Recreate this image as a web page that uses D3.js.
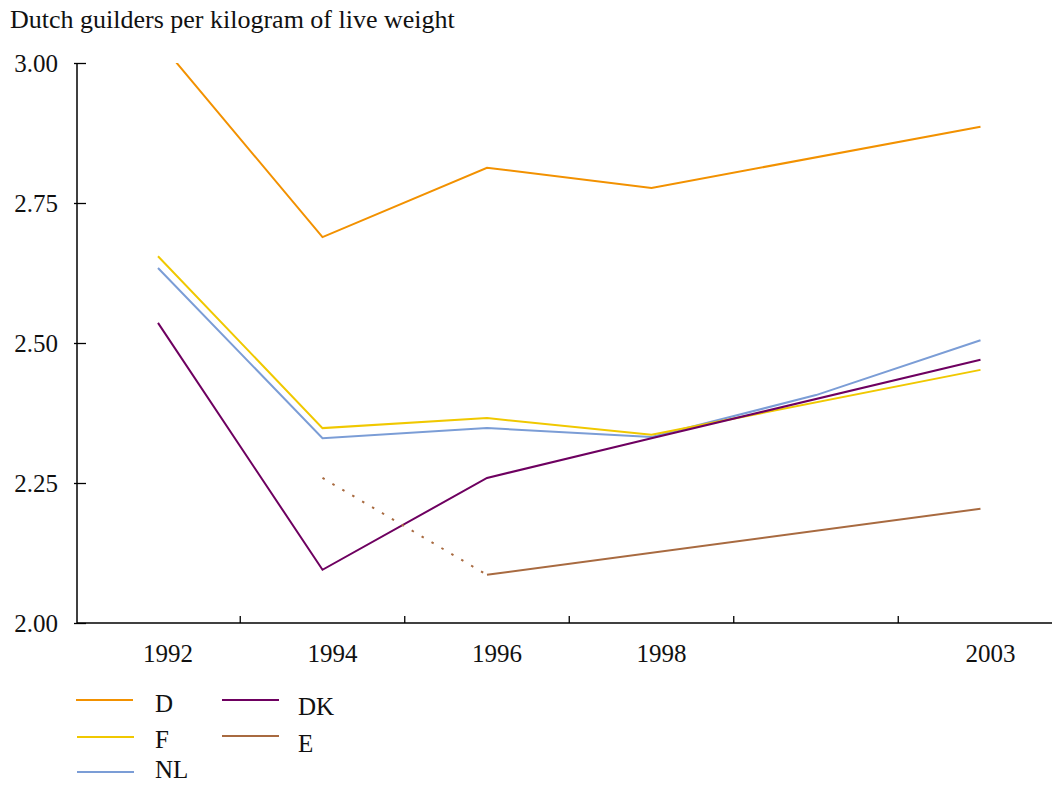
<!DOCTYPE html>
<html>
<head>
<meta charset="utf-8">
<title>Live weight prices</title>
<script src="https://d3js.org/d3.v7.min.js"></script>
<style>
  body { margin: 0; background: #fff; }
  svg text { font-family: "Liberation Serif", Tinos, "Times New Roman", Times, "DejaVu Serif", serif; }
</style>
</head>
<body>
<svg width="1052" height="785"></svg>
<script>
// data
var years = ["1992", "1994", "1996", "1998", "2001", "2003"];
var yearLabels = ["1992", "1994", "1996", "1998", "", "2003"];
var yTicks = [2.00, 2.25, 2.50, 2.75, 3.00];
var seriesNames = ["D", "F", "NL", "DK", "E"];
var valD  = [3.04, 2.689, 2.813, 2.777, null, 2.886];
var valF  = [2.655, 2.348, 2.366, 2.336, null, 2.452];
var valNL = [2.634, 2.330, 2.348, 2.332, 2.407, 2.505];
var valDK = [2.536, 2.095, 2.259, 2.330, null, 2.470];
var valE  = [null, 2.259, 2.086, null, null, 2.204];
var dottedE = [1, 2]; // E: 1994-1996 segment drawn dotted

var colors = {D: "#f29100", F: "#f0c800", NL: "#7b9dd6", DK: "#6e0060", E: "#a86a40"};
var serif = '"Liberation Serif", Tinos, "Times New Roman", Times, "DejaVu Serif", serif';

var svg = d3.select("svg");

var x = d3.scaleBand().domain(years).range([75.75, 1062.75]).paddingInner(0).paddingOuter(0);
var y = d3.scaleLinear().domain([2, 3]).range([623, 63]);
var cx = function(i) { return x(years[i]) + x.bandwidth() / 2; };

// title
svg.append("text").attr("x", 10).attr("y", 28).attr("font-size", "26px").attr("fill", "#111")
   .style("font-family", serif)
   .text("Dutch guilders per kilogram of live weight");

// y axis
var yAxis = svg.append("g").attr("transform", "translate(77,0)")
   .call(d3.axisRight(y).tickValues(yTicks).tickSize(9).tickFormat(d3.format(".2f")));
yAxis.select(".domain").remove();
yAxis.selectAll(".tick line").attr("x1", -3).attr("stroke", "#000").attr("stroke-width", 1.3);
yAxis.selectAll(".tick text").attr("x", -19).attr("text-anchor", "end").attr("dy", "0.34em")
   .attr("font-size", "25px").style("font-family", serif).attr("fill", "#111");
svg.append("line").attr("x1", 77).attr("x2", 77).attr("y1", y(3)).attr("y2", y(2))
   .attr("stroke", "#000").attr("stroke-width", 1.5);

// x axis
svg.append("line").attr("x1", 77).attr("x2", 1052).attr("y1", y(2)).attr("y2", y(2))
   .attr("stroke", "#000").attr("stroke-width", 1.5);
years.slice(1).forEach(function(yr) {
  svg.append("line").attr("x1", x(yr)).attr("x2", x(yr)).attr("y1", y(2)).attr("y2", y(2) - 7)
     .attr("stroke", "#000").attr("stroke-width", 1.3);
});
svg.selectAll(".xlab").data(yearLabels).enter().append("text")
   .attr("class", "xlab")
   .attr("x", function(d, i) { return cx(i) + 10; })
   .attr("y", 662)
   .attr("text-anchor", "middle")
   .attr("font-size", "25px").attr("fill", "#111").style("font-family", serif)
   .text(function(d) { return d; });

// clip to plot
svg.append("clipPath").attr("id", "plot").append("rect")
   .attr("x", 77).attr("y", y(3)).attr("width", 975).attr("height", y(2) - y(3));

// skip undefined interior points so lines run straight through them
function pts(vals) {
  return vals.map(function(v, i) { return v == null ? null : [cx(i), y(v)]; })
             .filter(function(p) { return p != null; });
}
var line2 = d3.line();

var plot = svg.append("g").attr("clip-path", "url(#plot)");
var all = {D: valD, F: valF, NL: valNL, DK: valDK};
["D", "NL", "F", "DK"].forEach(function(k) {
  plot.append("path").attr("d", line2(pts(all[k])))
     .attr("fill", "none").attr("stroke", colors[k]).attr("stroke-width", 2);
});
// E: dotted first segment, solid rest
var eDot = dottedE.map(function(i) { return [cx(i), y(valE[i])]; });
plot.append("path").attr("d", line2(eDot)).attr("fill", "none")
   .attr("stroke", colors.E).attr("stroke-width", 2).attr("stroke-dasharray", "2.5,9");
plot.append("path").attr("d", line2(pts(valE.map(function(v, i) { return i >= 2 ? v : null; }))))
   .attr("fill", "none").attr("stroke", colors.E).attr("stroke-width", 2);

// legend
var legPos = {
  D:  [76, 700, 155, 712],
  F:  [77, 737, 155, 748],
  NL: [77, 772, 155, 778],
  DK: [222, 700, 298, 715],
  E:  [222, 736, 298, 752]
};
seriesNames.forEach(function(k) {
  var p = legPos[k];
  svg.append("line").attr("x1", p[0]).attr("x2", p[0] + 57).attr("y1", p[1]).attr("y2", p[1])
     .attr("stroke", colors[k]).attr("stroke-width", 2);
  svg.append("text").attr("x", p[2]).attr("y", p[3]).attr("font-size", "25px").attr("fill", "#111")
     .style("font-family", serif).text(k);
});
</script>
</body>
</html>
